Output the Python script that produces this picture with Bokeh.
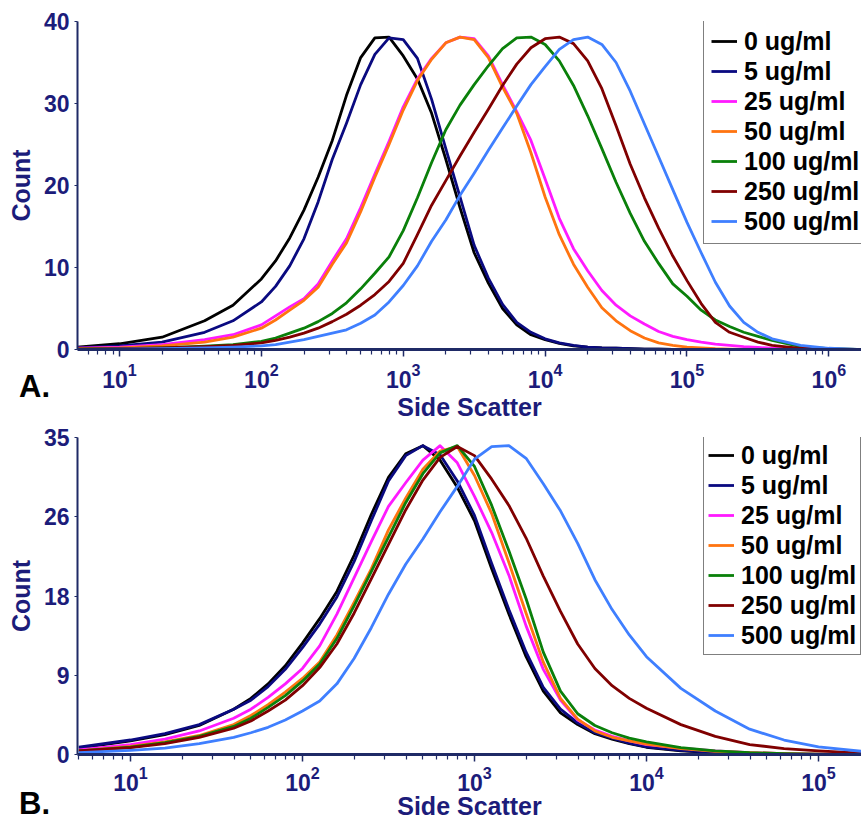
from bokeh.plotting import figure
from bokeh.models import (Range1d, FixedTicker, Legend, LegendItem, Div,
                          CustomJSTickFormatter)
from bokeh.layouts import column
from bokeh.embed import file_html
from bokeh.resources import INLINE

# ---------------- data ----------------
labels = ["0 ug/ml", "5 ug/ml", "25 ug/ml", "50 ug/ml",
          "100 ug/ml", "250 ug/ml", "500 ug/ml"]
colors = ["#000000", "#0a0a80", "#ff1aff", "#ff7410",
          "#0a800a", "#800000", "#3f7fff"]

A_log_x = [0.7, 1.0, 1.3, 1.6, 1.8,
           2.0, 2.1, 2.2, 2.3, 2.4, 2.5, 2.6, 2.7, 2.8, 2.9,
           3.0, 3.1, 3.2, 3.3, 3.4, 3.5, 3.6, 3.7, 3.8, 3.9,
           4.0, 4.1, 4.2, 4.3, 4.4, 4.5, 4.6, 4.7, 4.8, 4.9,
           5.0, 5.1, 5.2, 5.3, 5.4, 5.5, 5.6,
           5.8, 6.0, 6.2]
A_0 = [0.3, 0.7, 1.5, 3.5, 5.4,
       8.6, 10.8, 13.6, 17.0, 21.0, 25.5, 31.0, 35.6, 38.0, 38.1,
       35.8, 33.0, 28.8, 23.2, 17.3, 11.8, 8.1, 5.0, 3.0, 1.8,
       1.2, 0.75, 0.45, 0.3, 0.2, 0.15, 0.1, 0.05, 0.03, 0.0,
       0, 0, 0, 0, 0, 0, 0,
       0, 0, 0]
A_5 = [0.2, 0.45, 0.9, 2.1, 3.5,
       5.8, 7.7, 10.2, 13.5, 18.0, 23.2, 27.6, 32.3, 36.0, 38.0,
       37.8, 35.5, 30.5, 24.5, 18.6, 12.7, 8.7, 5.5, 3.3, 2.1,
       1.3, 0.8, 0.5, 0.3, 0.2, 0.15, 0.1, 0.05, 0.03, 0.0,
       0, 0, 0, 0, 0, 0, 0,
       0, 0, 0]
A_25 = [0.15, 0.3, 0.6, 1.2, 1.8,
        3.0, 4.1, 5.2, 6.2, 8.0, 10.8, 13.5, 17.3, 21.4, 25.4,
        29.6, 33.0, 35.5, 37.4, 38.1, 37.9, 35.8, 32.3, 29.0, 25.5,
        20.8, 16.0, 12.3, 9.6, 7.2, 5.4, 4.1, 3.1, 2.2, 1.6,
        1.2, 0.9, 0.65, 0.5, 0.35, 0.25, 0.15,
        0.05, 0, 0]
A_50 = [0.1, 0.2, 0.45, 0.9, 1.5,
        2.6, 3.6, 4.8, 6.0, 7.6, 10.4, 13.0, 16.8, 21.0, 25.0,
        29.2, 32.8, 35.4, 37.4, 38.1, 37.8, 35.6, 32.0, 28.8, 24.0,
        18.6, 14.0, 10.4, 7.6, 5.1, 3.5, 2.3, 1.4, 0.8, 0.5,
        0.3, 0.2, 0.1, 0.05, 0, 0, 0,
        0, 0, 0]
A_100 = [0.05, 0.1, 0.2, 0.4, 0.6,
         1.0, 1.4, 2.0, 2.6, 3.4, 4.4, 5.7, 7.4, 9.3, 11.3,
         14.5, 18.5, 22.8, 26.8, 29.8, 32.3, 34.6, 36.7, 38.0, 38.1,
         37.2, 35.2, 32.2, 28.5, 24.5, 20.4, 16.6, 13.2, 10.5, 8.0,
         6.5, 4.8, 3.6, 2.8, 2.1, 1.6, 1.1,
         0.35, 0.1, 0]
A_250 = [0.05, 0.1, 0.2, 0.35, 0.5,
         0.8, 1.1, 1.5, 2.0, 2.6, 3.4, 4.3, 5.4, 6.7, 8.3,
         10.5, 14.0, 17.6, 20.6, 23.6, 26.5, 29.3, 32.2, 34.8, 36.8,
         37.9, 38.1, 37.3, 35.2, 31.8, 27.3, 22.6, 18.5, 14.8, 11.4,
         8.4, 5.6, 3.3, 2.1, 1.5, 0.9, 0.5,
         0.15, 0.05, 0]
A_500 = [0.02, 0.05, 0.1, 0.2, 0.3,
         0.45, 0.6, 0.9, 1.2, 1.6, 2.0, 2.4, 3.2, 4.2, 5.8,
         7.8, 10.2, 13.2, 15.8, 18.8, 21.5, 24.3, 27.0, 29.7, 32.3,
         34.5, 36.6, 37.8, 38.1, 37.2, 35.0, 31.5, 27.5, 23.5, 19.5,
         15.5, 11.8, 8.2, 5.3, 3.3, 2.1, 1.3,
         0.5, 0.15, 0]

B_log_x = [0.7, 1.0, 1.2, 1.4,
           1.6, 1.7, 1.8, 1.9,
           2.0, 2.1, 2.2, 2.3, 2.4, 2.5, 2.6, 2.7, 2.8, 2.9,
           3.0, 3.1, 3.2, 3.3, 3.4, 3.5, 3.6, 3.7, 3.8, 3.9,
           4.0, 4.2, 4.4, 4.6, 4.8,
           5.0, 5.25]
B_0 = [0.7, 1.5, 2.2, 3.2,
       5.0, 6.2, 7.8, 9.8,
       12.3, 15.0, 18.0, 22.0, 26.5, 30.6, 33.2, 34.1, 32.5, 29.5,
       25.8, 20.5, 15.5, 10.8, 7.0, 4.6, 3.3, 2.3, 1.7, 1.2,
       0.8, 0.4, 0.2, 0.1, 0.05,
       0, 0]
B_5 = [0.8, 1.6, 2.3, 3.3,
       5.0, 6.0, 7.5, 9.4,
       11.8, 14.4, 17.4, 21.3, 25.8, 30.2, 33.0, 34.1, 33.1, 30.2,
       26.4, 21.1, 16.0, 11.3, 7.4, 5.0, 3.5, 2.4, 1.8, 1.25,
       0.85, 0.45, 0.2, 0.1, 0.05,
       0, 0]
B_25 = [0.5, 1.1, 1.7, 2.6,
        4.0, 5.0, 6.3, 7.8,
        9.5, 12.0, 15.5, 19.5, 23.5, 27.4, 30.0, 32.5, 34.1, 32.2,
        28.5, 24.5, 19.8, 14.2, 9.4, 6.0, 3.8, 2.7, 2.0, 1.5,
        1.1, 0.7, 0.4, 0.2, 0.1,
        0.05, 0]
B_50 = [0.4, 0.9, 1.4, 2.1,
        3.3, 4.3, 5.5, 6.9,
        8.4, 10.2, 13.2, 16.8, 20.5, 24.8, 28.3, 31.5, 33.5, 34.0,
        30.8, 26.6, 21.2, 15.6, 10.2, 6.2, 3.9, 2.6, 1.9, 1.5,
        1.15, 0.65, 0.35, 0.2, 0.1,
        0.05, 0]
B_100 = [0.4, 0.8, 1.3, 2.0,
         3.1, 4.0, 5.2, 6.5,
         8.1, 10.0, 12.8, 16.4, 20.2, 24.0, 27.8, 31.0, 33.3, 34.1,
         31.8, 27.5, 22.5, 17.2, 11.3, 7.0, 4.5, 3.2, 2.4, 1.8,
         1.4, 0.75, 0.4, 0.2, 0.1,
         0.05, 0]
B_250 = [0.4, 0.75, 1.2, 1.9,
         2.9, 3.7, 4.8, 6.0,
         7.6, 9.6, 12.2, 15.6, 19.4, 23.2, 27.0, 30.3, 32.8, 34.0,
         33.0, 30.4, 27.5, 23.9, 19.7, 15.8, 12.2, 9.5, 7.6, 6.2,
         5.1, 3.3, 2.0, 1.1, 0.65,
         0.4, 0.15]
B_500 = [0.2, 0.45, 0.7, 1.2,
         1.9, 2.4, 3.0, 3.8,
         4.8, 5.9, 7.8, 10.6, 14.0, 17.7, 21.0, 23.8, 26.8, 29.6,
         32.6, 34.0, 34.1, 32.7, 29.9, 26.9, 23.3, 19.3, 16.0, 13.2,
         10.8, 7.3, 4.8, 2.8, 1.6,
         0.85, 0.35]

A_series = [A_0, A_5, A_25, A_50, A_100, A_250, A_500]
B_series = [B_0, B_5, B_25, B_50, B_100, B_250, B_500]

A_tick_exps = [1, 2, 3, 4, 5, 6]
B_tick_exps = [1, 2, 3, 4, 5]
A_y_ticks = [0, 10, 20, 30, 40]
B_y_ticks = [0, 8.75, 17.5, 26.25, 35]

FONT = "Liberation Sans"
NAVY = "#1c1c7a"
AXIS = "#1f2a66"
W = 861


def make_panel(log_x, series, x_lo, x_hi, y_hi, y_ticks, tick_exps,
               height, top, bottom, tick_standoff, xlab_standoff,
               legend_bottom, row_h, legend_pad):
    p = figure(width=W, height=height, x_axis_type="log",
               output_backend="svg", toolbar_location=None,
               x_range=Range1d(10 ** x_lo, 10 ** x_hi),
               y_range=Range1d(0, y_hi),
               min_border_left=77, min_border_right=0,
               min_border_top=top, min_border_bottom=bottom)
    p.outline_line_color = None
    p.xgrid.visible = False
    p.ygrid.visible = False

    xs = [10 ** v for v in log_x]
    items = []
    for lab, col, ys in zip(labels, colors, series):
        r = p.line(xs, ys, line_color=col, line_width=2.8, line_join="round")
        items.append(LegendItem(label=lab, renderers=[r]))

    minor = [m * 10.0 ** e for e in range(0, max(tick_exps) + 1) for m in range(2, 10)]
    p.xaxis.ticker = FixedTicker(ticks=[10.0 ** e for e in tick_exps], minor_ticks=minor)
    p.xaxis.axis_line_color = AXIS
    p.xaxis.axis_line_width = 3
    p.xaxis.major_tick_line_color = AXIS
    p.xaxis.major_tick_line_width = 1.5
    p.xaxis.minor_tick_line_color = AXIS
    p.xaxis.minor_tick_line_width = 1.2
    p.xaxis.major_tick_in = 0
    p.xaxis.major_tick_out = 7
    p.xaxis.minor_tick_in = 0
    p.xaxis.minor_tick_out = 5
    p.xaxis.major_label_standoff = tick_standoff
    p.xaxis.major_label_text_font = FONT
    p.xaxis.major_label_text_font_style = "bold"
    p.xaxis.major_label_text_font_size = "23px"
    p.xaxis.major_label_text_color = NAVY
    p.xaxis.axis_label = "Side Scatter"
    p.xaxis.axis_label_text_font = FONT
    p.xaxis.axis_label_text_font_style = "bold"
    p.xaxis.axis_label_text_font_size = "25px"
    p.xaxis.axis_label_text_color = NAVY
    p.xaxis.axis_label_standoff = xlab_standoff

    p.yaxis.ticker = FixedTicker(ticks=y_ticks)
    p.yaxis.formatter = CustomJSTickFormatter(code="return Math.round(tick).toString();")
    p.yaxis.axis_line_color = AXIS
    p.yaxis.axis_line_width = 2
    p.yaxis.major_tick_line_color = AXIS
    p.yaxis.major_tick_in = 0
    p.yaxis.major_tick_out = 3
    p.yaxis.minor_tick_line_color = None
    p.yaxis.major_label_standoff = 5
    p.yaxis.major_label_text_font = FONT
    p.yaxis.major_label_text_font_style = "bold"
    p.yaxis.major_label_text_font_size = "23px"
    p.yaxis.major_label_text_color = NAVY
    p.yaxis.axis_label = "Count"
    p.yaxis.axis_label_text_font = FONT
    p.yaxis.axis_label_text_font_style = "bold"
    p.yaxis.axis_label_text_font_size = "25px"
    p.yaxis.axis_label_text_color = NAVY
    p.yaxis.axis_label_standoff = 6

    legend = Legend(items=items, location=(626, legend_bottom))
    legend.label_text_font = FONT
    legend.label_text_font_style = "bold"
    legend.label_text_font_size = "25px"
    legend.label_text_color = "black"
    legend.label_height = row_h
    legend.glyph_height = row_h
    legend.glyph_width = 26
    legend.label_standoff = 7
    legend.spacing = 0
    legend.padding = legend_pad
    legend.margin = 0
    legend.border_line_color = "black"
    legend.border_line_width = 1.5
    legend.background_fill_color = "white"
    legend.background_fill_alpha = 1.0
    p.add_layout(legend)
    return p


pA = make_panel(A_log_x, A_series, 0.704, 6.23, 40, A_y_ticks, A_tick_exps,
                height=423, top=21, bottom=73, tick_standoff=6, xlab_standoff=2,
                legend_bottom=105, row_h=30, legend_pad=7)
pB = make_panel(B_log_x, B_series, 0.692, 5.25, 35, B_y_ticks, B_tick_exps,
                height=403, top=14, bottom=72, tick_standoff=4, xlab_standoff=-2,
                legend_bottom=99, row_h=30, legend_pad=4)


def panel_letter(text, top):
    return Div(text=text, width=40, height=34,
               styles={"position": "absolute", "left": "14px", "top": f"{top}px",
                       "font-family": FONT, "font-weight": "bold",
                       "font-size": "31px", "line-height": "31px",
                       "color": "black", "z-index": "10"})


layout = column(pA, pB, panel_letter("A.", 366), panel_letter("B.", 783), spacing=0)
open("out.html", "w").write(file_html(layout, INLINE))
